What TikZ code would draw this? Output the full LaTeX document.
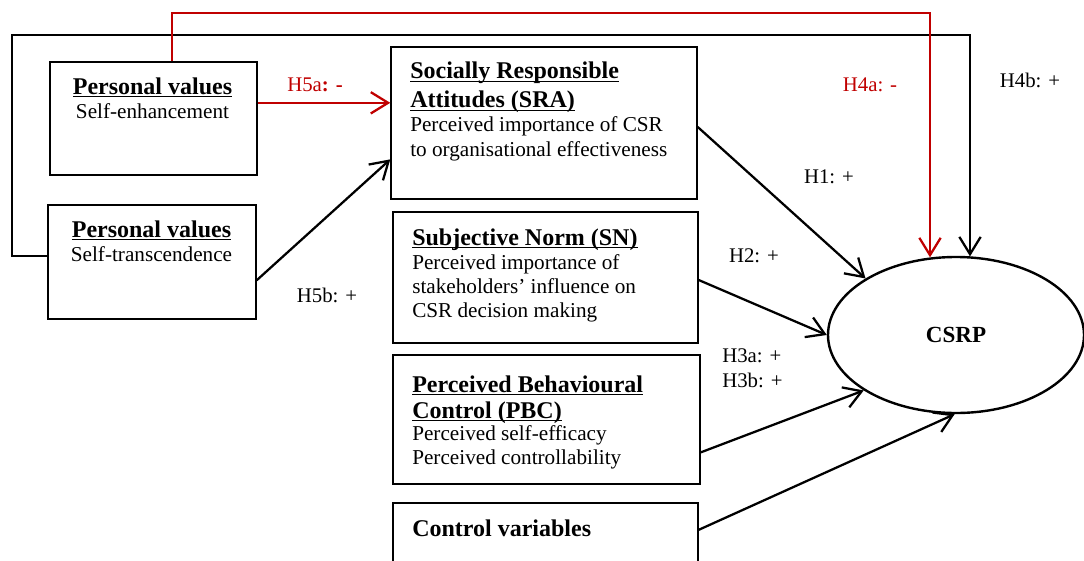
\documentclass[tikz,border=0pt]{standalone}
\usepackage{fontspec}
\setmainfont{Liberation Serif}
\usetikzlibrary{arrows.meta,calc,fit,shapes.geometric}
\definecolor{hred}{RGB}{192,0,0}
% bold heading with a heavy rule under it
\newcommand{\ultitle}[1]{\setbox0=\hbox{#1}\rlap{\rule[-2.6pt]{\wd0}{1.4pt}}\box0}

\begin{document}
\begin{tikzpicture}[x=0.75pt,y=-0.75pt,
  box/.style={draw,line width=1.1pt,inner sep=0pt,fit={#1}},
  titletxt/.style={font=\fontsize{18pt}{#1}\selectfont\bfseries,inner sep=0pt,align=left},
  titletxt/.default=21pt,
  bodytxt/.style={font=\fontsize{15.9pt}{#1}\selectfont,inner sep=0pt,align=left},
  bodytxt/.default=18pt,
  hlabel/.style={font=\fontsize{15.6pt}{18.75pt}\selectfont,inner sep=0pt,align=left},
  conn/.style={line width=1.7pt,line join=miter,-{Straight Barb[length=13pt,width=16pt]}},
  redconn/.style={conn,draw=hred},
]
\useasboundingbox (0,0) rectangle (1084,560);

% construct boxes
\node[box={(50,62)(257,175)}]   (pv1)  {};
\node[box={(48,205)(256,319)}]  (pv2)  {};
\node[box={(391,47)(697,199)}]  (sra)  {};
\node[box={(393,212)(698,343)}] (sn)   {};
\node[box={(393,355)(700,484)}] (pbc)  {};
\node[box={(393,503)(698,575)}] (ctrl) {};
\node[ellipse,draw,line width=1.8pt,inner sep=0pt,minimum width=192pt,minimum height=117pt,
      font=\fontsize{17.3pt}{20pt}\selectfont\bfseries] (csrp) at (956,335) {CSRP};

% box texts (multi-line nodes are placed by the baseline of their last line)
\node[titletxt,anchor=base] (pv1a) at (152.5,94) {\ultitle{Personal values}};
\node[bodytxt,anchor=base]  (pv1b) at (152.5,118) {Self-enhancement};
\node[titletxt,anchor=base] (pv2a) at (151.5,237) {\ultitle{Personal values}};
\node[bodytxt,anchor=base]  (pv2b) at (151.5,261) {Self-transcendence};

\node[titletxt=21.75pt,anchor=base west] (sraa) at (410,108)
  {\ultitle{Socially Responsible}\\\ultitle{Attitudes (SRA)}};
\node[bodytxt=18.75pt,anchor=base west] (srab) at (410,156)
  {Perceived importance of CSR\\to organisational effectiveness};

\node[titletxt,anchor=base west] (sna) at (412,245) {\ultitle{Subjective Norm (SN)}};
\node[bodytxt,anchor=base west]  (snb) at (412,317)
  {Perceived importance of\\stakeholders’ influence on\\CSR decision making};

\node[titletxt=19.5pt,anchor=base west] (pbca) at (412,418)
  {\ultitle{Perceived Behavioural}\\\ultitle{Control (PBC)}};
\node[bodytxt,anchor=base west] (pbcb) at (412,464)
  {Perceived self-efficacy\\Perceived controllability};

\node[titletxt,anchor=base west] (ctrla) at (412,536) {Control variables};

% hypothesis labels
\node[hlabel,anchor=base,text=hred] (l5a) at (315,91) {H5a\textbf{: -}};
\node[hlabel,anchor=base] (l5b) at (327,302) {H5b: +};
\node[hlabel,anchor=base,text=hred] (l4a) at (870,91) {H4a: -};
\node[hlabel,anchor=base] (l4b) at (1030,88) {H4b: +};
\node[hlabel,anchor=base] (l1) at (829,183) {H1: +};
\node[hlabel,anchor=base] (l2) at (754,262) {H2: +};
\node[hlabel,anchor=base west] (l3) at (722,387) {H3a: +\\H3b: +};

% loop corners of the two long paths
\coordinate (b4L) at (12,35);
\coordinate (b4R) at (970,35);
\coordinate (r4a) at (930,13);

% H4b: self-transcendence to CSRP over the top
\draw[conn] ($(pv2.north west)!0.447!(pv2.south west)$) -| (b4L) -- (b4R)
  -- (b4R |- csrp.79.8);
% H4a: self-enhancement to CSRP over the top
\draw[redconn] ($(pv1.north west)!0.589!(pv1.north east)$) |- (r4a)
  -- (r4a |- csrp.108.4);

% H5a, H5b
\draw[redconn] ($(pv1.north east)!0.363!(pv1.south east)$) coordinate (s5a)
  -- (s5a -| sra.west);
\draw[conn] ($(pv2.north east)!0.658!(pv2.south east)$)
  -- ($(sra.north west)!0.737!(sra.south west)$);

% H1, H2, H3, controls
\draw[conn] ($(sra.north east)!0.526!(sra.south east)$) -- (csrp.148);
\draw[conn] ($(sn.north east)!0.519!(sn.south east)$) -- (csrp.180);
\draw[conn] ($(pbc.north east)!0.752!(pbc.south east)$) -- (csrp.211);
\draw[conn] ($(ctrl.north east)!0.375!(ctrl.south east)$) -- (csrp.269);
\end{tikzpicture}
\end{document}
